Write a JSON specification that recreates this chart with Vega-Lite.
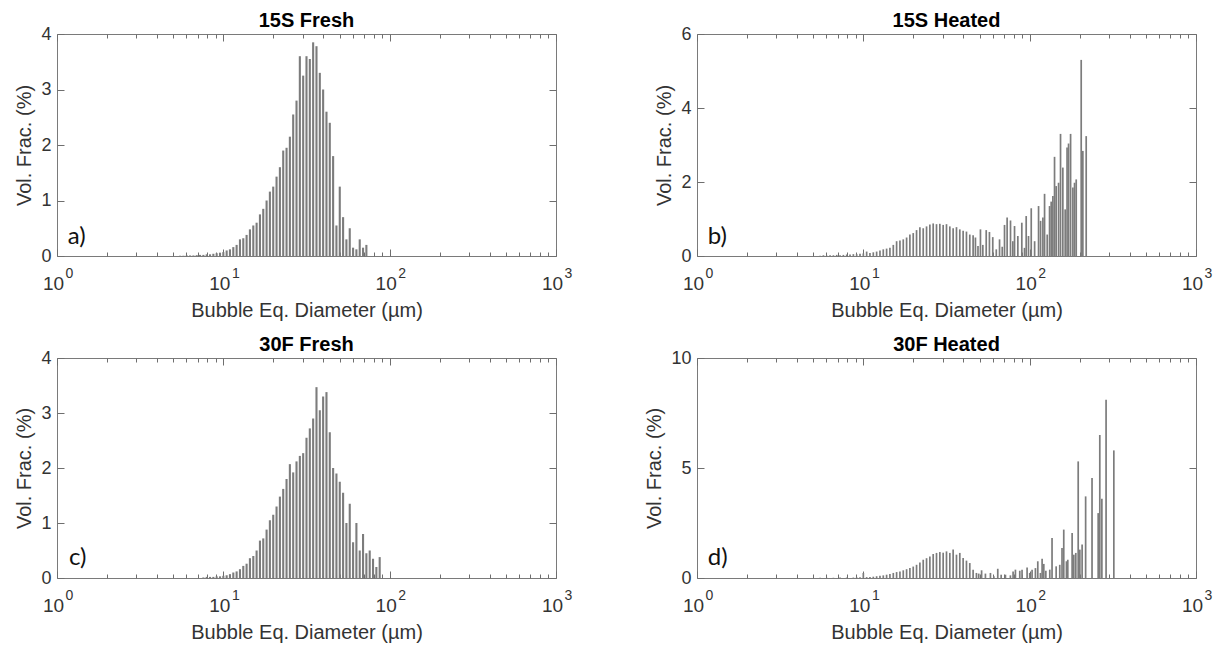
{
  "$schema": "https://vega.github.io/schema/vega-lite/v6.json",
  "padding": {"left": 14, "top": 10, "right": 0, "bottom": 0},
  "config": {
    "view": {"stroke": "#7a7a7a", "strokeWidth": 1},
    "font": "Liberation Sans",
    "axis": {"domain": false, "grid": false, "labelFont": "Liberation Sans", "labelFontSize": 18, "labelColor": "#333333", "titleFont": "Liberation Sans", "titleFontSize": 20, "titleFontWeight": "normal", "titleColor": "#333333", "tickColor": "#6e6e6e", "tickWidth": 1},
    "title": {"font": "Liberation Sans", "fontSize": 20, "fontWeight": "bold", "color": "#000000", "offset": -6}
  },
  "datasets": {
    "labels": [
      {"p": "a", "x": 1.16, "y": 0.35, "t": "a)"},
      {"p": "b", "x": 1.16, "y": 0.52, "t": "b)"},
      {"p": "c", "x": 1.18, "y": 0.37, "t": "c)"},
      {"p": "d", "x": 1.16, "y": 0.9, "t": "d)"}
    ],
    "bars": [
      {"p":"a","d":5.495,"v":0.005},{"p":"a","d":5.754,"v":0.005},{"p":"a","d":6.026,"v":0.01},{"p":"a","d":6.31,"v":0.01},{"p":"a","d":6.607,"v":0.01},{"p":"a","d":6.918,"v":0.015},{"p":"a","d":7.244,"v":0.02},{"p":"a","d":7.586,"v":0.02},{"p":"a","d":7.943,"v":0.03},{"p":"a","d":8.318,"v":0.03},{"p":"a","d":8.71,"v":0.04},{"p":"a","d":9.12,"v":0.05},{"p":"a","d":9.55,"v":0.06},{"p":"a","d":10.0,"v":0.07},{"p":"a","d":10.47,"v":0.1},{"p":"a","d":10.96,"v":0.12},{"p":"a","d":11.48,"v":0.16},{"p":"a","d":12.02,"v":0.2},{"p":"a","d":12.59,"v":0.3},{"p":"a","d":13.18,"v":0.32},{"p":"a","d":13.8,"v":0.38},{"p":"a","d":14.45,"v":0.48},{"p":"a","d":15.14,"v":0.55},{"p":"a","d":15.85,"v":0.6},{"p":"a","d":16.6,"v":0.75},{"p":"a","d":17.38,"v":0.85},{"p":"a","d":18.2,"v":1.0},{"p":"a","d":19.05,"v":1.16},{"p":"a","d":19.95,"v":1.25},{"p":"a","d":20.89,"v":1.43},{"p":"a","d":21.88,"v":1.6},{"p":"a","d":22.91,"v":1.9},{"p":"a","d":23.99,"v":1.95},{"p":"a","d":25.12,"v":2.15},{"p":"a","d":26.3,"v":2.55},{"p":"a","d":27.54,"v":2.8},{"p":"a","d":28.84,"v":3.6},{"p":"a","d":30.2,"v":3.25},{"p":"a","d":31.62,"v":3.6},{"p":"a","d":33.11,"v":3.55},{"p":"a","d":34.67,"v":3.85},{"p":"a","d":36.31,"v":3.78},{"p":"a","d":38.02,"v":3.3},{"p":"a","d":39.81,"v":3.0},{"p":"a","d":41.69,"v":2.6},{"p":"a","d":43.65,"v":2.4},{"p":"a","d":45.71,"v":1.8},{"p":"a","d":47.86,"v":0.55},{"p":"a","d":50.12,"v":1.25},{"p":"a","d":52.48,"v":0.7},{"p":"a","d":54.95,"v":0.3},{"p":"a","d":57.54,"v":0.5},{"p":"a","d":60.26,"v":0.15},{"p":"a","d":63.1,"v":0.12},{"p":"a","d":66.07,"v":0.3},{"p":"a","d":69.18,"v":0.15},{"p":"a","d":72.44,"v":0.2},

      {"p":"b","d":5.495,"v":0.01},{"p":"b","d":5.754,"v":0.02},{"p":"b","d":6.026,"v":0.01},{"p":"b","d":6.31,"v":0.02},{"p":"b","d":6.607,"v":0.02},{"p":"b","d":6.918,"v":0.03},{"p":"b","d":7.244,"v":0.02},{"p":"b","d":7.586,"v":0.03},{"p":"b","d":7.943,"v":0.04},{"p":"b","d":8.318,"v":0.04},{"p":"b","d":8.71,"v":0.05},{"p":"b","d":9.12,"v":0.05},{"p":"b","d":9.55,"v":0.06},{"p":"b","d":10.0,"v":0.07},{"p":"b","d":10.47,"v":0.12},{"p":"b","d":10.96,"v":0.08},{"p":"b","d":11.48,"v":0.1},{"p":"b","d":12.02,"v":0.12},{"p":"b","d":12.59,"v":0.15},{"p":"b","d":13.18,"v":0.18},{"p":"b","d":13.8,"v":0.2},{"p":"b","d":14.45,"v":0.22},{"p":"b","d":15.14,"v":0.3},{"p":"b","d":15.85,"v":0.4},{"p":"b","d":16.6,"v":0.42},{"p":"b","d":17.38,"v":0.45},{"p":"b","d":18.2,"v":0.5},{"p":"b","d":19.05,"v":0.58},{"p":"b","d":19.95,"v":0.62},{"p":"b","d":20.89,"v":0.7},{"p":"b","d":21.88,"v":0.78},{"p":"b","d":22.91,"v":0.75},{"p":"b","d":23.99,"v":0.8},{"p":"b","d":25.12,"v":0.85},{"p":"b","d":26.3,"v":0.88},{"p":"b","d":27.54,"v":0.86},{"p":"b","d":28.84,"v":0.87},{"p":"b","d":30.2,"v":0.84},{"p":"b","d":31.62,"v":0.86},{"p":"b","d":33.11,"v":0.8},{"p":"b","d":34.67,"v":0.75},{"p":"b","d":36.31,"v":0.78},{"p":"b","d":38.02,"v":0.72},{"p":"b","d":39.81,"v":0.68},{"p":"b","d":41.69,"v":0.66},{"p":"b","d":43.65,"v":0.58},{"p":"b","d":45.71,"v":0.56},{"p":"b","d":47.2,"v":0.5},{"p":"b","d":48.9,"v":0.27},{"p":"b","d":50.6,"v":0.72},{"p":"b","d":52.3,"v":0.3},{"p":"b","d":54.8,"v":0.7},{"p":"b","d":57.3,"v":0.65},{"p":"b","d":60.0,"v":0.51},{"p":"b","d":63.0,"v":0.18},{"p":"b","d":65.9,"v":0.45},{"p":"b","d":68.4,"v":0.25},{"p":"b","d":70.6,"v":0.84},{"p":"b","d":73.2,"v":1.04},{"p":"b","d":76.7,"v":0.96},{"p":"b","d":79.2,"v":0.4},{"p":"b","d":81.1,"v":0.81},{"p":"b","d":84.9,"v":0.54},{"p":"b","d":89.7,"v":0.9},{"p":"b","d":93.1,"v":0.22},{"p":"b","d":95.3,"v":1.08},{"p":"b","d":98.4,"v":0.54},{"p":"b","d":102.2,"v":1.29},{"p":"b","d":107.1,"v":0.4},{"p":"b","d":113.1,"v":1.35},{"p":"b","d":116.3,"v":0.95},{"p":"b","d":120.1,"v":1.04},{"p":"b","d":122.9,"v":1.68},{"p":"b","d":127.5,"v":0.58},{"p":"b","d":131.7,"v":1.35},{"p":"b","d":134.7,"v":1.47},{"p":"b","d":137.9,"v":1.62},{"p":"b","d":141.1,"v":2.68},{"p":"b","d":144.3,"v":1.89},{"p":"b","d":149.2,"v":1.98},{"p":"b","d":153.3,"v":3.3},{"p":"b","d":158.3,"v":2.39},{"p":"b","d":163.5,"v":1.26},{"p":"b","d":167.8,"v":2.93},{"p":"b","d":171.3,"v":3.04},{"p":"b","d":176.2,"v":3.3},{"p":"b","d":181.9,"v":1.85},{"p":"b","d":186.1,"v":1.98},{"p":"b","d":190.5,"v":2.07},{"p":"b","d":204.1,"v":5.3},{"p":"b","d":208.8,"v":2.84},{"p":"b","d":218.7,"v":3.24},

      {"p":"c","d":7.586,"v":0.01},{"p":"c","d":7.943,"v":0.02},{"p":"c","d":8.318,"v":0.02},{"p":"c","d":8.71,"v":0.02},{"p":"c","d":9.12,"v":0.03},{"p":"c","d":9.55,"v":0.03},{"p":"c","d":10.0,"v":0.04},{"p":"c","d":10.47,"v":0.05},{"p":"c","d":10.96,"v":0.07},{"p":"c","d":11.48,"v":0.1},{"p":"c","d":12.02,"v":0.12},{"p":"c","d":12.59,"v":0.16},{"p":"c","d":13.18,"v":0.22},{"p":"c","d":13.8,"v":0.26},{"p":"c","d":14.45,"v":0.36},{"p":"c","d":15.14,"v":0.4},{"p":"c","d":15.85,"v":0.5},{"p":"c","d":16.6,"v":0.68},{"p":"c","d":17.38,"v":0.72},{"p":"c","d":18.2,"v":0.88},{"p":"c","d":19.05,"v":1.05},{"p":"c","d":19.95,"v":1.15},{"p":"c","d":20.89,"v":1.3},{"p":"c","d":21.88,"v":1.48},{"p":"c","d":22.91,"v":1.62},{"p":"c","d":23.99,"v":1.8},{"p":"c","d":25.12,"v":2.07},{"p":"c","d":26.3,"v":1.92},{"p":"c","d":27.54,"v":2.12},{"p":"c","d":28.84,"v":2.22},{"p":"c","d":30.2,"v":2.27},{"p":"c","d":31.62,"v":2.55},{"p":"c","d":33.11,"v":2.72},{"p":"c","d":34.67,"v":2.9},{"p":"c","d":36.31,"v":3.47},{"p":"c","d":38.02,"v":3.05},{"p":"c","d":39.81,"v":3.3},{"p":"c","d":41.69,"v":3.38},{"p":"c","d":43.65,"v":2.65},{"p":"c","d":45.71,"v":2.0},{"p":"c","d":47.86,"v":1.9},{"p":"c","d":50.12,"v":1.75},{"p":"c","d":52.48,"v":1.55},{"p":"c","d":54.95,"v":1.0},{"p":"c","d":57.54,"v":1.35},{"p":"c","d":60.26,"v":0.65},{"p":"c","d":63.1,"v":1.0},{"p":"c","d":66.07,"v":0.5},{"p":"c","d":69.18,"v":0.8},{"p":"c","d":72.44,"v":0.45},{"p":"c","d":75.86,"v":0.5},{"p":"c","d":79.43,"v":0.35},{"p":"c","d":83.18,"v":0.2},{"p":"c","d":87.1,"v":0.38},

      {"p":"d","d":5.495,"v":0.01},{"p":"d","d":6.026,"v":0.01},{"p":"d","d":6.607,"v":0.01},{"p":"d","d":7.244,"v":0.02},{"p":"d","d":7.943,"v":0.02},{"p":"d","d":8.71,"v":0.02},{"p":"d","d":9.12,"v":0.03},{"p":"d","d":9.55,"v":0.03},{"p":"d","d":10.0,"v":0.23},{"p":"d","d":10.47,"v":0.04},{"p":"d","d":10.96,"v":0.05},{"p":"d","d":11.48,"v":0.06},{"p":"d","d":12.02,"v":0.08},{"p":"d","d":12.59,"v":0.1},{"p":"d","d":13.18,"v":0.12},{"p":"d","d":13.8,"v":0.15},{"p":"d","d":14.45,"v":0.18},{"p":"d","d":15.14,"v":0.23},{"p":"d","d":15.85,"v":0.27},{"p":"d","d":16.6,"v":0.3},{"p":"d","d":17.38,"v":0.35},{"p":"d","d":18.2,"v":0.4},{"p":"d","d":19.05,"v":0.45},{"p":"d","d":19.95,"v":0.52},{"p":"d","d":20.89,"v":0.6},{"p":"d","d":21.88,"v":0.7},{"p":"d","d":22.91,"v":0.83},{"p":"d","d":23.99,"v":0.9},{"p":"d","d":25.12,"v":0.98},{"p":"d","d":26.3,"v":1.09},{"p":"d","d":27.54,"v":1.14},{"p":"d","d":28.84,"v":1.18},{"p":"d","d":30.2,"v":1.15},{"p":"d","d":31.62,"v":1.21},{"p":"d","d":33.11,"v":1.14},{"p":"d","d":34.67,"v":1.29},{"p":"d","d":36.31,"v":1.06},{"p":"d","d":38.02,"v":1.14},{"p":"d","d":39.81,"v":0.91},{"p":"d","d":41.69,"v":0.79},{"p":"d","d":43.65,"v":0.68},{"p":"d","d":45.71,"v":0.38},{"p":"d","d":47.86,"v":0.23},{"p":"d","d":49.4,"v":0.2},{"p":"d","d":51.4,"v":0.35},{"p":"d","d":54.2,"v":0.2},{"p":"d","d":58.1,"v":0.23},{"p":"d","d":60.9,"v":0.08},{"p":"d","d":64.3,"v":0.42},{"p":"d","d":67.4,"v":0.15},{"p":"d","d":71.5,"v":0.15},{"p":"d","d":76.6,"v":0.12},{"p":"d","d":79.5,"v":0.3},{"p":"d","d":82.1,"v":0.38},{"p":"d","d":87.2,"v":0.33},{"p":"d","d":90.0,"v":0.38},{"p":"d","d":96.5,"v":0.48},{"p":"d","d":100.1,"v":0.23},{"p":"d","d":103.4,"v":0.38},{"p":"d","d":108.3,"v":0.45},{"p":"d","d":111.9,"v":0.76},{"p":"d","d":116.1,"v":0.23},{"p":"d","d":118.8,"v":0.88},{"p":"d","d":121.6,"v":0.64},{"p":"d","d":125.1,"v":0.33},{"p":"d","d":132.1,"v":0.38},{"p":"d","d":136.3,"v":1.82},{"p":"d","d":144.3,"v":0.53},{"p":"d","d":151.7,"v":0.6},{"p":"d","d":156.5,"v":1.36},{"p":"d","d":160.3,"v":2.2},{"p":"d","d":166.4,"v":0.76},{"p":"d","d":169.5,"v":0.83},{"p":"d","d":180.0,"v":2.05},{"p":"d","d":184.2,"v":1.06},{"p":"d","d":189.4,"v":1.14},{"p":"d","d":195.8,"v":5.3},{"p":"d","d":200.3,"v":1.29},{"p":"d","d":206.7,"v":1.52},{"p":"d","d":217.0,"v":3.71},{"p":"d","d":237.1,"v":4.55},{"p":"d","d":258.2,"v":2.95},{"p":"d","d":264.0,"v":6.5},{"p":"d","d":271.7,"v":3.6},{"p":"d","d":288.0,"v":8.1},{"p":"d","d":320.6,"v":5.8}
    ]
  },
  "columns": 2,
  "spacing": {"row": 102, "column": 141},
  "bounds": "flush",
  "concat": [
    {
      "title": "15S Fresh",
      "width": 499, "height": 222,
      "resolve": {"axis": {"x": "independent"}},
      "layer": [
        {
          "data": {"name": "bars"},
          "transform": [{"filter": "datum.p == 'a'"}],
          "mark": {"type": "rule", "color": "#7c7c7c", "strokeWidth": 2.1},
          "encoding": {
            "x": {"field": "d", "type": "quantitative", "scale": {"type": "log", "domain": [1, 1000], "nice": false},
              "axis": {"orient": "bottom", "title": "Bubble Eq. Diameter (µm)", "values": [1,2,3,4,5,6,7,8,9,10,20,30,40,50,60,70,80,90,100,200,300,400,500,600,700,800,900,1000], "labelExpr": "datum.value == 1 || datum.value == 10 || datum.value == 100 || datum.value == 1000 ? '10' : ''", "labelFontSize": 19, "labelOffset": -4, "labelOverlap": false, "labelFlush": false, "labelBound": false, "tickSize": {"condition": {"test": "datum.value == 1 || datum.value == 10 || datum.value == 100 || datum.value == 1000", "value": -7}, "value": -4}, "labelPadding": 25, "titlePadding": 4}},
            "y": {"field": "v", "type": "quantitative", "scale": {"domain": [0, 4], "nice": false},
              "axis": {"orient": "left", "title": "Vol. Frac. (%)", "values": [0,1,2,3,4], "tickSize": -7, "labelPadding": 13, "titlePadding": 6}},
            "y2": {"datum": 0}
          }
        },
        {
          "data": {"name": "bars"},
          "transform": [{"filter": "datum.p == 'a'"}],
          "mark": {"type": "point", "opacity": 0},
          "encoding": {
            "x": {"field": "d", "type": "quantitative", "axis": {"orient": "bottom", "title": null, "ticks": false, "values": [1,10,100,1000], "labelExpr": "datum.value == 1 ? '0' : datum.value == 10 ? '1' : datum.value == 100 ? '2' : '3'", "labelFontSize": 14, "labelOffset": 12, "labelPadding": 10, "labelOverlap": false, "labelFlush": false, "labelBound": false}},
            "y": {"field": "v", "type": "quantitative", "axis": null}
          }
        },
        {
          "data": {"name": "bars"},
          "transform": [{"filter": "datum.p == 'a'"}],
          "mark": {"type": "point", "opacity": 0},
          "encoding": {
            "x": {"field": "d", "type": "quantitative", "axis": {"orient": "top", "title": null, "labels": false, "values": [1,2,3,4,5,6,7,8,9,10,20,30,40,50,60,70,80,90,100,200,300,400,500,600,700,800,900,1000], "tickSize": {"condition": {"test": "datum.value == 1 || datum.value == 10 || datum.value == 100 || datum.value == 1000", "value": -7}, "value": -4}}},
            "y": {"field": "v", "type": "quantitative", "axis": {"orient": "right", "title": null, "labels": false, "values": [0,1,2,3,4], "tickSize": -7}}
          }
        },
        {
          "data": {"name": "labels"},
          "transform": [{"filter": "datum.p == 'a'"}],
          "mark": {"type": "text", "font": "Lato", "fontSize": 24, "align": "left", "baseline": "middle", "color": "#111111"},
          "encoding": {
            "x": {"field": "x", "type": "quantitative", "axis": null},
            "y": {"field": "y", "type": "quantitative", "axis": null},
            "text": {"field": "t"}
          }
        }
      ]
    },
    {
      "title": "15S Heated",
      "width": 499, "height": 222,
      "resolve": {"axis": {"x": "independent"}},
      "layer": [
        {
          "data": {"name": "bars"},
          "transform": [{"filter": "datum.p == 'b'"}],
          "mark": {"type": "rule", "color": "#7c7c7c", "strokeWidth": 1.7},
          "encoding": {
            "x": {"field": "d", "type": "quantitative", "scale": {"type": "log", "domain": [1, 1000], "nice": false},
              "axis": {"orient": "bottom", "title": "Bubble Eq. Diameter (µm)", "values": [1,2,3,4,5,6,7,8,9,10,20,30,40,50,60,70,80,90,100,200,300,400,500,600,700,800,900,1000], "labelExpr": "datum.value == 1 || datum.value == 10 || datum.value == 100 || datum.value == 1000 ? '10' : ''", "labelFontSize": 19, "labelOffset": -4, "labelOverlap": false, "labelFlush": false, "labelBound": false, "tickSize": {"condition": {"test": "datum.value == 1 || datum.value == 10 || datum.value == 100 || datum.value == 1000", "value": -7}, "value": -4}, "labelPadding": 25, "titlePadding": 4}},
            "y": {"field": "v", "type": "quantitative", "scale": {"domain": [0, 6], "nice": false},
              "axis": {"orient": "left", "title": "Vol. Frac. (%)", "values": [0,2,4,6], "tickSize": -7, "labelPadding": 13, "titlePadding": 6}},
            "y2": {"datum": 0}
          }
        },
        {
          "data": {"name": "bars"},
          "transform": [{"filter": "datum.p == 'b'"}],
          "mark": {"type": "point", "opacity": 0},
          "encoding": {
            "x": {"field": "d", "type": "quantitative", "axis": {"orient": "bottom", "title": null, "ticks": false, "values": [1,10,100,1000], "labelExpr": "datum.value == 1 ? '0' : datum.value == 10 ? '1' : datum.value == 100 ? '2' : '3'", "labelFontSize": 14, "labelOffset": 12, "labelPadding": 10, "labelOverlap": false, "labelFlush": false, "labelBound": false}},
            "y": {"field": "v", "type": "quantitative", "axis": null}
          }
        },
        {
          "data": {"name": "bars"},
          "transform": [{"filter": "datum.p == 'b'"}],
          "mark": {"type": "point", "opacity": 0},
          "encoding": {
            "x": {"field": "d", "type": "quantitative", "axis": {"orient": "top", "title": null, "labels": false, "values": [1,2,3,4,5,6,7,8,9,10,20,30,40,50,60,70,80,90,100,200,300,400,500,600,700,800,900,1000], "tickSize": {"condition": {"test": "datum.value == 1 || datum.value == 10 || datum.value == 100 || datum.value == 1000", "value": -7}, "value": -4}}},
            "y": {"field": "v", "type": "quantitative", "axis": {"orient": "right", "title": null, "labels": false, "values": [0,2,4,6], "tickSize": -7}}
          }
        },
        {
          "data": {"name": "labels"},
          "transform": [{"filter": "datum.p == 'b'"}],
          "mark": {"type": "text", "font": "Lato", "fontSize": 24, "align": "left", "baseline": "middle", "color": "#111111"},
          "encoding": {
            "x": {"field": "x", "type": "quantitative", "axis": null},
            "y": {"field": "y", "type": "quantitative", "axis": null},
            "text": {"field": "t"}
          }
        }
      ]
    },
    {
      "title": "30F Fresh",
      "width": 499, "height": 220,
      "resolve": {"axis": {"x": "independent"}},
      "layer": [
        {
          "data": {"name": "bars"},
          "transform": [{"filter": "datum.p == 'c'"}],
          "mark": {"type": "rule", "color": "#7c7c7c", "strokeWidth": 2.1},
          "encoding": {
            "x": {"field": "d", "type": "quantitative", "scale": {"type": "log", "domain": [1, 1000], "nice": false},
              "axis": {"orient": "bottom", "title": "Bubble Eq. Diameter (µm)", "values": [1,2,3,4,5,6,7,8,9,10,20,30,40,50,60,70,80,90,100,200,300,400,500,600,700,800,900,1000], "labelExpr": "datum.value == 1 || datum.value == 10 || datum.value == 100 || datum.value == 1000 ? '10' : ''", "labelFontSize": 19, "labelOffset": -4, "labelOverlap": false, "labelFlush": false, "labelBound": false, "tickSize": {"condition": {"test": "datum.value == 1 || datum.value == 10 || datum.value == 100 || datum.value == 1000", "value": -7}, "value": -4}, "labelPadding": 25, "titlePadding": 4}},
            "y": {"field": "v", "type": "quantitative", "scale": {"domain": [0, 4], "nice": false},
              "axis": {"orient": "left", "title": "Vol. Frac. (%)", "values": [0,1,2,3,4], "tickSize": -7, "labelPadding": 13, "titlePadding": 6}},
            "y2": {"datum": 0}
          }
        },
        {
          "data": {"name": "bars"},
          "transform": [{"filter": "datum.p == 'c'"}],
          "mark": {"type": "point", "opacity": 0},
          "encoding": {
            "x": {"field": "d", "type": "quantitative", "axis": {"orient": "bottom", "title": null, "ticks": false, "values": [1,10,100,1000], "labelExpr": "datum.value == 1 ? '0' : datum.value == 10 ? '1' : datum.value == 100 ? '2' : '3'", "labelFontSize": 14, "labelOffset": 12, "labelPadding": 10, "labelOverlap": false, "labelFlush": false, "labelBound": false}},
            "y": {"field": "v", "type": "quantitative", "axis": null}
          }
        },
        {
          "data": {"name": "bars"},
          "transform": [{"filter": "datum.p == 'c'"}],
          "mark": {"type": "point", "opacity": 0},
          "encoding": {
            "x": {"field": "d", "type": "quantitative", "axis": {"orient": "top", "title": null, "labels": false, "values": [1,2,3,4,5,6,7,8,9,10,20,30,40,50,60,70,80,90,100,200,300,400,500,600,700,800,900,1000], "tickSize": {"condition": {"test": "datum.value == 1 || datum.value == 10 || datum.value == 100 || datum.value == 1000", "value": -7}, "value": -4}}},
            "y": {"field": "v", "type": "quantitative", "axis": {"orient": "right", "title": null, "labels": false, "values": [0,1,2,3,4], "tickSize": -7}}
          }
        },
        {
          "data": {"name": "labels"},
          "transform": [{"filter": "datum.p == 'c'"}],
          "mark": {"type": "text", "font": "Lato", "fontSize": 24, "align": "left", "baseline": "middle", "color": "#111111"},
          "encoding": {
            "x": {"field": "x", "type": "quantitative", "axis": null},
            "y": {"field": "y", "type": "quantitative", "axis": null},
            "text": {"field": "t"}
          }
        }
      ]
    },
    {
      "title": "30F Heated",
      "width": 499, "height": 220,
      "resolve": {"axis": {"x": "independent"}},
      "layer": [
        {
          "data": {"name": "bars"},
          "transform": [{"filter": "datum.p == 'd'"}],
          "mark": {"type": "rule", "color": "#7c7c7c", "strokeWidth": 1.7},
          "encoding": {
            "x": {"field": "d", "type": "quantitative", "scale": {"type": "log", "domain": [1, 1000], "nice": false},
              "axis": {"orient": "bottom", "title": "Bubble Eq. Diameter (µm)", "values": [1,2,3,4,5,6,7,8,9,10,20,30,40,50,60,70,80,90,100,200,300,400,500,600,700,800,900,1000], "labelExpr": "datum.value == 1 || datum.value == 10 || datum.value == 100 || datum.value == 1000 ? '10' : ''", "labelFontSize": 19, "labelOffset": -4, "labelOverlap": false, "labelFlush": false, "labelBound": false, "tickSize": {"condition": {"test": "datum.value == 1 || datum.value == 10 || datum.value == 100 || datum.value == 1000", "value": -7}, "value": -4}, "labelPadding": 25, "titlePadding": 4}},
            "y": {"field": "v", "type": "quantitative", "scale": {"domain": [0, 10], "nice": false},
              "axis": {"orient": "left", "title": "Vol. Frac. (%)", "values": [0,5,10], "tickSize": -7, "labelPadding": 13, "titlePadding": 6}},
            "y2": {"datum": 0}
          }
        },
        {
          "data": {"name": "bars"},
          "transform": [{"filter": "datum.p == 'd'"}],
          "mark": {"type": "point", "opacity": 0},
          "encoding": {
            "x": {"field": "d", "type": "quantitative", "axis": {"orient": "bottom", "title": null, "ticks": false, "values": [1,10,100,1000], "labelExpr": "datum.value == 1 ? '0' : datum.value == 10 ? '1' : datum.value == 100 ? '2' : '3'", "labelFontSize": 14, "labelOffset": 12, "labelPadding": 10, "labelOverlap": false, "labelFlush": false, "labelBound": false}},
            "y": {"field": "v", "type": "quantitative", "axis": null}
          }
        },
        {
          "data": {"name": "bars"},
          "transform": [{"filter": "datum.p == 'd'"}],
          "mark": {"type": "point", "opacity": 0},
          "encoding": {
            "x": {"field": "d", "type": "quantitative", "axis": {"orient": "top", "title": null, "labels": false, "values": [1,2,3,4,5,6,7,8,9,10,20,30,40,50,60,70,80,90,100,200,300,400,500,600,700,800,900,1000], "tickSize": {"condition": {"test": "datum.value == 1 || datum.value == 10 || datum.value == 100 || datum.value == 1000", "value": -7}, "value": -4}}},
            "y": {"field": "v", "type": "quantitative", "axis": {"orient": "right", "title": null, "labels": false, "values": [0,5,10], "tickSize": -7}}
          }
        },
        {
          "data": {"name": "labels"},
          "transform": [{"filter": "datum.p == 'd'"}],
          "mark": {"type": "text", "font": "Lato", "fontSize": 24, "align": "left", "baseline": "middle", "color": "#111111"},
          "encoding": {
            "x": {"field": "x", "type": "quantitative", "axis": null},
            "y": {"field": "y", "type": "quantitative", "axis": null},
            "text": {"field": "t"}
          }
        }
      ]
    }
  ]
}
